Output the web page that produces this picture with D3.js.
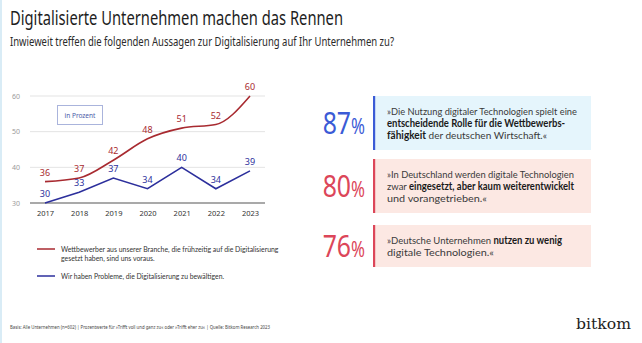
<!DOCTYPE html>
<html><head><meta charset="utf-8">
<script src="https://cdn.jsdelivr.net/npm/d3@7"></script>
<style>
html,body{margin:0;padding:0;background:#fff;}
svg{display:block;font-family:"Noto Sans",sans-serif;}
</style></head>
<body><svg id="c" width="642" height="343"></svg>
<script>
const years = [2017, 2018, 2019, 2020, 2021, 2022, 2023];
const competitorsAhead = [36, 37, 42, 48, 51, 52, 60];
const digitalProblems = [30, 33, 37, 34, 40, 34, 39];
const yTicks = [30, 40, 50, 60];
const seriesNames = [
  ["Wettbewerber aus unserer Branche, die frühzeitig auf die Digitalisierung", "gesetzt haben, sind uns voraus."],
  ["Wir haben Probleme, die Digitalisierung zu bewältigen."]
];
const statementValues = [87, 80, 76];
const statementLines = [
  [[["»Die Nutzung digitaler Technologien spielt eine", 0]], [["entscheidende Rolle für die Wettbewerbs-", 1]], [["fähigkeit", 1], [" der deutschen Wirtschaft.«", 0]]],
  [[["»In Deutschland werden digitale Technologien", 0]], [["zwar ", 0], ["eingesetzt, aber kaum weiterentwickelt", 1]], [["und vorangetrieben.«", 0]]],
  [[["»Deutsche Unternehmen ", 0], ["nutzen zu wenig", 1]], [["digitale Technologien.«", 0]]]
];
const title = "Digitalisierte Unternehmen machen das Rennen";
const subtitle = "Inwieweit treffen die folgenden Aussagen zur Digitalisierung auf Ihr Unternehmen zu?";
const footnote = "Basis: Alle Unternehmen (n=602) | Prozentwerte für »Trifft voll und ganz zu« oder »Trifft eher zu« | Quelle: Bitkom Research 2023";

const svg = d3.select("#c");
const RED = "#a82a30", BLUE = "#2c2f9c";

svg.append("rect").attr("x", 0).attr("y", 0).attr("width", 2).attr("height", 343).attr("fill", "#d9ecf6");

function fitText(parent, x, y, str, size, width, opts) {
  opts = opts || {};
  return parent.append("text").attr("x", x).attr("y", y).attr("font-size", size)
    .attr("fill", opts.fill || "#222").attr("font-weight", opts.weight || 400)
    .attr("font-family", opts.family || null)
    .attr("textLength", width).attr("lengthAdjust", "spacingAndGlyphs").text(str);
}
function scaledRuns(parent, x, y, runs, size, width) {
  const g = parent.append("g");
  const t = g.append("text").attr("font-size", size).attr("font-family", "Lato");
  runs.forEach(r => t.append("tspan").attr("font-weight", r[1] ? 700 : 400)
    .attr("fill", r[1] ? "#1a1a1a" : "#3a3a3a").text(r[0]));
  const w = t.node().getComputedTextLength();
  const k = width / w;
  g.attr("transform", `translate(${x},${y}) scale(${k},1)`);
  return g;
}

fitText(svg, 10, 25, title, 20, 333, {fill: "#1e1e1e"});
fitText(svg, 10, 46, subtitle, 13, 384, {fill: "#2a2a2a"});

// ---- line chart ----
const x = d3.scalePoint().domain(years).range([45, 250]);
const y = d3.scaleLinear().domain([30, 60]).range([203, 96]);
const gx0 = 30, gx1 = 265;

const grid = svg.append("g");
grid.selectAll("line").data(yTicks).join("line")
  .attr("x1", gx0).attr("x2", gx1)
  .attr("y1", d => y(d)).attr("y2", d => y(d))
  .attr("stroke", d => d === 30 ? "#555" : "#dcdcdc")
  .attr("stroke-width", d => d === 30 ? 1.2 : 0.8);
grid.selectAll("text").data(yTicks).join("text")
  .attr("x", 16).attr("y", d => y(d) + 2.5).attr("text-anchor", "middle")
  .attr("font-size", 7).attr("fill", "#9a9a9a").text(d => d);

const xAxis = svg.append("g").attr("transform", `translate(0,${y(30)})`)
  .call(d3.axisBottom(x).tickSize(0).tickPadding(8));
xAxis.select(".domain").remove();
xAxis.selectAll("text").attr("font-size", 7.5).attr("fill", "#333").attr("font-family", "Noto Sans");

svg.append("rect").attr("x", 57.5).attr("y", 105.5).attr("width", 45).attr("height", 19)
  .attr("fill", "#fff").attr("stroke", "#aab4dc").attr("stroke-width", 1);
svg.append("text").attr("x", 80).attr("y", 117.5).attr("text-anchor", "middle")
  .attr("font-size", 6.5).attr("fill", "#4a5aa8").text("in Prozent");

const series = [
  {vals: competitorsAhead, color: RED, curve: d3.curveMonotoneX},
  {vals: digitalProblems, color: BLUE, curve: d3.curveLinear}
];
series.forEach(s => {
  const line = d3.line().x((d, i) => x(years[i])).y(d => y(d)).curve(s.curve);
  svg.append("path").attr("d", line(s.vals)).attr("fill", "none")
    .attr("stroke", s.color).attr("stroke-width", 1.6);
  svg.append("g").selectAll("text").data(s.vals).join("text")
    .attr("x", (d, i) => x(years[i])).attr("y", d => y(d) - 6)
    .attr("text-anchor", "middle").attr("font-size", 9).attr("fill", s.color)
    .text(d => d);
});

const legendY = [249, 276];
seriesNames.forEach((lines, i) => {
  const c = i === 0 ? RED : BLUE;
  svg.append("line").attr("x1", 37).attr("x2", 55).attr("y1", legendY[i]).attr("y2", legendY[i])
    .attr("stroke", c).attr("stroke-width", 1.5);
  lines.forEach((ln, j) => {
    fitText(svg, 61, legendY[i] + 2.5 + j * 9.3, ln, 7.2, ln.length * 3.02, {fill: "#333", family: "Lato"});
  });
});

// ---- statement boxes ----
const boxes = [
  {y0: 96, y1: 150, fill: "#e5f5fc", accent: "#3b5bd6"},
  {y0: 159, y1: 213, fill: "#fce8e3", accent: "#dc4659"},
  {y0: 225, y1: 267, fill: "#fce8e3", accent: "#dc4659"}
];
const lineWidths = [[190, 178, 160], [187, 187, 100], [175, 107]];
statementValues.forEach((v, i) => {
  const b = boxes[i];
  svg.append("rect").attr("x", 373).attr("y", b.y0).attr("width", 218).attr("height", b.y1 - b.y0).attr("fill", b.fill);
  svg.append("rect").attr("x", 373).attr("y", b.y0).attr("width", 2.2).attr("height", b.y1 - b.y0).attr("fill", b.accent);
  const cy = (b.y0 + b.y1) / 2;
  const g = svg.append("g").attr("transform", `translate(365,${cy + 11}) scale(0.8,1)`);
  const t = g.append("text").attr("text-anchor", "end").attr("fill", b.accent);
  t.append("tspan").attr("font-size", 31).text(v);
  t.append("tspan").attr("font-size", 21).text("%");
  const lines = statementLines[i];
  const lh = 12;
  const top = cy - (lines.length - 1) * lh / 2 + 3.5;
  lines.forEach((runs, j) => scaledRuns(svg, 387, top + j * lh, runs, 10.4, lineWidths[i][j]));
});

fitText(svg, 10, 329, footnote, 6, 260, {fill: "#444"});
fitText(svg, 576, 329, "bitkom", 15, 55, {fill: "#1e1e1e", family: "DejaVu Serif"});
</script></body></html>
